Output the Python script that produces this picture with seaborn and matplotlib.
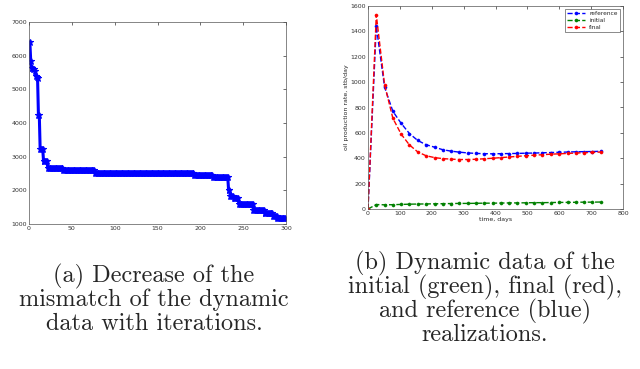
import numpy as np
import pandas as pd
import matplotlib
matplotlib.use('Agg')
import matplotlib.pyplot as plt
import seaborn as sns

# (a) mismatch per iteration, stored as step levels and how many iterations each lasts
mismatch_levels = [6400, 5850, 5620, 5600, 5550, 5400, 5370, 5330, 4250, 3240, 2860, 2650,
                   2590, 2500, 2450, 2400, 2000, 1840, 1780, 1580, 1410, 1320, 1230, 1190]
level_counts = [1, 1, 2, 2, 1, 1, 1, 1, 2, 4, 5, 18,
                37, 116, 22, 18, 2, 4, 6, 17, 13, 10, 5, 10]

# (b) oil production rate
days = [0, 26, 52, 78, 104, 130, 156, 182, 209, 235, 261, 287, 313, 339, 365,
        391, 417, 443, 469, 495, 521, 547, 574, 600, 626, 652, 678, 704, 730]
reference = [0, 1440, 960, 770, 675, 595, 540, 507, 487, 467, 456, 448, 442, 438, 436,
             435, 436, 437, 438, 440, 441, 443, 445, 447, 449, 451, 452, 453, 455]
initial = [0, 35, 33, 34, 36, 38, 39, 40, 41, 42, 43, 44, 44, 45, 46,
           46, 47, 48, 48, 49, 50, 50, 51, 52, 52, 53, 54, 54, 55]
final = [0, 1530, 980, 715, 590, 505, 450, 420, 405, 397, 393, 390, 390, 392, 396,
         400, 405, 410, 415, 420, 424, 428, 432, 435, 438, 441, 444, 446, 449]

caption_a = ['(a) Decrease of the', 'mismatch of the dynamic', 'data with iterations.']
caption_b = ['(b) Dynamic data of the', 'initial (green), final (red),',
             'and reference (blue)', 'realizations.']

mismatch = np.repeat(mismatch_levels, level_counts)
df_a = pd.DataFrame({'iteration': np.arange(1, len(mismatch) + 1), 'mismatch': mismatch})

df_b = pd.DataFrame({'days': days * 3,
                     'rate': reference + initial + final,
                     'case': ['reference'] * len(days) + ['initial'] * len(days) + ['final'] * len(days)})

sns.set_style('white')
plt.rcParams['font.family'] = ['DejaVu Sans']

fig = plt.figure(figsize=(6.4, 3.69), dpi=100)
ax1 = fig.add_axes([29 / 640, 1 - 224 / 369, 257 / 640, 202 / 369])
ax2 = fig.add_axes([368 / 640, 1 - 209 / 369, 255 / 640, 203 / 369])

sns.lineplot(data=df_a, x='iteration', y='mismatch', ax=ax1, color='#0000ff',
             linewidth=2.2, marker='*', markersize=4.5, markeredgewidth=0.8,
             markeredgecolor='#0000ff')
ax1.set_xlim(0, 300)
ax1.set_ylim(1000, 7000)
ax1.set_xticks(range(0, 301, 50))
ax1.set_yticks(range(1000, 7001, 1000))

palette = {'reference': '#0000ff', 'initial': '#008000', 'final': '#ff0000'}
sns.lineplot(data=df_b, x='days', y='rate', hue='case', hue_order=['reference', 'initial', 'final'],
             palette=palette, ax=ax2, linewidth=1, marker='o', markersize=2.2,
             markeredgewidth=0.4)
for line in ax2.lines:
    line.set_linestyle('--')
    line.set_markeredgecolor(line.get_color())
ax2.set_xlim(0, 800)
ax2.set_ylim(0, 1600)
ax2.set_xticks(range(0, 801, 100))
ax2.set_yticks(range(0, 1601, 200))
ax2.set_xlabel('time, days', fontsize=4.5, labelpad=1)
ax2.set_ylabel('oil production rate, stb/day', fontsize=4.5, labelpad=1)
leg = ax2.legend(loc='upper right', fontsize=4.2, frameon=True, fancybox=False,
                 edgecolor='#333333', borderpad=0.4, handlelength=3, labelspacing=0.3)
leg.get_frame().set_linewidth(0.5)
for h in leg.get_lines():
    h.set_linestyle('--')
    h.set_markeredgecolor(h.get_color())

ax1.set_xlabel('')
ax1.set_ylabel('')
for ax in (ax1, ax2):
    ax.tick_params(direction='in', length=2, width=0.5, labelsize=4.5, pad=1.5,
                   top=True, right=True, colors='#333333')
    for s in ax.spines.values():
        s.set_linewidth(0.5)
        s.set_color('#555555')

cap_font = dict(family='cmr10', fontsize=17.5, ha='center', va='baseline')
for i, line in enumerate(caption_a):
    fig.text(154 / 640, 1 - (282 + 24 * i) / 369, line, **cap_font)
for i, line in enumerate(caption_b):
    fig.text(485 / 640, 1 - (269 + 24 * i) / 369, line, **cap_font)

fig.savefig('out.png', dpi=100)
